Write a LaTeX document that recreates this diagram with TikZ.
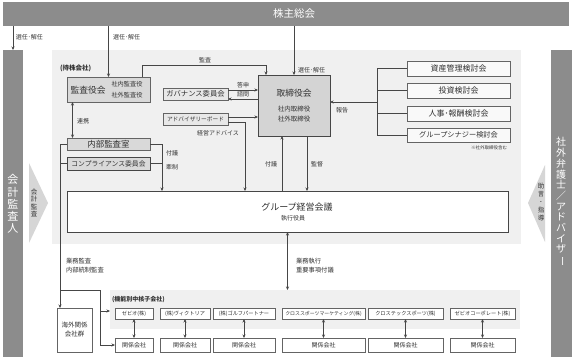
\documentclass[tikz,border=0pt]{standalone}
\usepackage{fontspec}
\setmainfont{Noto Sans CJK JP}
\usetikzlibrary{arrows.meta,calc}
\definecolor{barc}{RGB}{140,140,140}
\definecolor{bgc}{RGB}{240,240,240}
\definecolor{boxg}{RGB}{217,217,217}
\definecolor{boxl}{RGB}{232,232,232}
\definecolor{torc}{RGB}{212,212,212}
\definecolor{chev}{RGB}{214,214,214}
\definecolor{lnc}{RGB}{70,70,70}
\definecolor{brd}{RGB}{100,100,100}
\definecolor{txc}{RGB}{50,50,50}
\newcommand{\jfs}[1]{\fontsize{#1}{#1}\selectfont}
\newcommand{\jfsl}[2]{\fontsize{#1}{#2}\selectfont}
\begin{document}
\begin{tikzpicture}[x=1pt,y=-1pt,
  every node/.style={inner sep=0pt,outer sep=0pt,text=txc},
  bx/.style={draw=brd,line width=0.6pt,anchor=north west},
  gbox/.style={bx,fill=boxg},
  lbox/.style={bx,fill=boxl},
  wbox/.style={bx,fill=white},
  sbox/.style={draw=brd,line width=0.5pt,fill=white,anchor=north west,minimum height=11pt,font=\jfs{5.2}},
  rbox/.style={draw=brd,line width=0.5pt,fill=white,anchor=north west,minimum height=14pt,font=\jfs{6}},
  lbl/.style={font=\jfs{6}},
  ln/.style={draw=lnc,line width=0.6pt},
  arr/.style={draw=lnc,line width=0.6pt,-{Stealth[length=3.5pt,width=3pt]}},
  arrb/.style={draw=lnc,line width=0.6pt,{Stealth[length=3.5pt,width=3pt]}-{Stealth[length=3.5pt,width=3pt]}}]
\useasboundingbox (0,0) rectangle (574,360);
\fill[white] (0,0) rectangle (574,360);
% backgrounds
\node[fill=bgc,minimum width=469pt,minimum height=194pt,anchor=north west] (hold) at (52,50) {};
\node[fill=bgc,minimum width=410pt,minimum height=39pt,anchor=north west] (subbg) at (110,290) {};
% top bar and side columns
\node[fill=barc,minimum width=566pt,minimum height=24pt,anchor=north west] (top) at (3,2) {};
\node[text=white,font=\jfs{10.5}] (toplbl) at (294,14) {株主総会};
\node[fill=barc,minimum width=20pt,minimum height=307pt,anchor=north west] (kaikei) at (3,50) {};
\node[text=white,font=\jfsl{11}{12.2},align=center] (kaikeilbl) at (13,204) {会\\計\\監\\査\\人};
\node[fill=barc,minimum width=21pt,minimum height=307pt,anchor=north west] (bengo) at (551,50) {};
\node[text=white,font=\jfsl{10}{10.7},align=center] (bengolbl) at (561,202) {社\\外\\弁\\護\\士\\／\\ア\\ド\\バ\\イ\\ザ\\\rotatebox[origin=c]{-90}{ー}};
% chevrons
\fill[chev] (29,163) -- (48,203) -- (29,243) -- cycle;
\node[font=\jfsl{6.5}{7.5},align=center] (kk) at (34,203) {会\\計\\監\\査};
\fill[chev] (545,165) -- (528,203) -- (545,242) -- cycle;
\node[font=\jfsl{6.5}{8},align=center] (jg) at (541,202) {助\\言\\･\\指\\導};
% holding company
\node[font=\bfseries\jfs{6.5},anchor=west] (hl) at (60,68) {(持株会社)};
\node[gbox,minimum width=83pt,minimum height=25pt] (kansa) at (67,77) {};
\node[font=\jfs{8.75}] (kansa1) at (88,90) {監査役会};
\node[font=\jfs{6.2}] (kansa2) at (127,84.5) {社内監査役};
\node[font=\jfs{6.2}] (kansa3) at (127,95) {社外監査役};
\node[lbox,minimum width=65pt,minimum height=12pt,font=\jfs{7.3}] (gov) at (163,88) {ガバナンス委員会};
\node[lbox,minimum width=65pt,minimum height=12pt,font=\jfs{5.7}] (adv) at (163,113) {アドバイザリーボード};
\node[gbox,minimum width=83pt,minimum height=12pt,font=\jfs{8.5}] (naibu) at (67,138) {内部監査室};
\node[gbox,draw=lnc,minimum width=83pt,minimum height=13pt,font=\jfs{6.8}] (comp) at (67,157) {コンプライアンス委員会};
\node[bx,fill=torc,draw=lnc,minimum width=72pt,minimum height=61pt] (tori) at (258,75) {};
\node[font=\jfs{8.75}] (tori1) at (294,93) {取締役会};
\node[font=\jfs{6.5}] (tori2) at (294,109) {社内取締役};
\node[font=\jfs{6.5}] (tori3) at (294,119) {社外取締役};
\node[bx,fill=white!60!bgc,minimum width=103pt,minimum height=15pt,font=\jfs{8}] (c1) at (407,61) {資産管理検討会};
\node[bx,fill=white!60!bgc,minimum width=103pt,minimum height=15pt,font=\jfs{8}] (c2) at (407,83) {投資検討会};
\node[bx,fill=white!60!bgc,minimum width=103pt,minimum height=15pt,font=\jfs{8}] (c3) at (407,106) {人事･報酬検討会};
\node[bx,fill=white!60!bgc,minimum width=103pt,minimum height=14pt,font=\jfs{7.2}] (c4) at (407,128) {グループシナジー検討会};
\node[font=\jfs{4.5},anchor=east] (note) at (507,148) {※社外取締役含む};
\node[wbox,draw=lnc,minimum width=441pt,minimum height=41pt] (gm) at (67,191) {};
\node[font=\jfs{9}] (gm1) at (297,207) {グループ経営会議};
\node[font=\jfs{6}] (gm2) at (293,218) {執行役員};
% subsidiaries
\node[font=\bfseries\jfs{6},anchor=west] (sl) at (112,300) {(機能別中核子会社)};
\node[wbox,minimum width=35pt,minimum height=44pt,font=\jfsl{6.5}{9},align=center] (kaigai) at (57,308) {海外関係\\会社群};
\node[sbox,minimum width=38pt] (s1) at (115,308) {ゼビオ(株)};
\node[sbox,minimum width=50pt] (s2) at (160,308) {(株)ヴィクトリア};
\node[sbox,minimum width=62pt] (s3) at (213,308) {(株)ゴルフパートナー};
\node[sbox,minimum width=83pt,font=\jfs{4.9}] (s4) at (282,308) {クロススポーツマーケティング(株)};
\node[sbox,minimum width=75pt] (s5) at (368,308) {クロステックスポーツ(株)};
\node[sbox,minimum width=65pt] (s6) at (450,308) {ゼビオコーポレート(株)};
\node[rbox,minimum width=38pt] (r1) at (115,338) {関係会社};
\node[rbox,minimum width=50pt] (r2) at (160,338) {関係会社};
\node[rbox,minimum width=62pt] (r3) at (213,338) {関係会社};
\node[rbox,minimum width=83pt] (r4) at (282,338) {関係会社};
\node[rbox,minimum width=75pt] (r5) at (368,338) {関係会社};
\node[rbox,minimum width=65pt] (r6) at (450,338) {関係会社};
\foreach \i in {1,...,6} {\draw[arrb] (s\i.south) -- (r\i.north);}
% connectors from top
\draw[arr] (top.south -| kaikei.north) -- (kaikei.north);
\node[lbl,anchor=west] (l1) at (16,37) {選任･解任};
\draw[arr] (top.south -| kansa.north) -- (kansa.north);
\node[lbl,anchor=west] (l2) at (113,37) {選任･解任};
\draw[arr] (top.south -| tori.north) -- (tori.north);
\node[lbl,anchor=west] (l3) at (298,70) {選任･解任};
% audit
\coordinate (ka) at ([xshift=33.5pt]kansa.north);
\coordinate (kb) at ([xshift=-28pt]tori.north);
\draw[arr] (ka) -- ++(0,-12) -| (kb);
\node[lbl] (l4) at (205,60) {監査};
% governance
\coordinate (g1) at ([yshift=4pt]gov.east);
\coordinate (g2) at ([yshift=-5pt]gov.east);
\draw[arr] (g1) -- (g1 -| tori.west);
\draw[arr] (g2 -| tori.west) -- (g2);
\node[lbl] (l5) at (243,85) {答申};
\node[lbl] (l6) at (243,94.5) {諮問};
% advisory
\coordinate (a1) at ([yshift=2pt]adv.east);
\coordinate (a2) at ([yshift=-3pt]adv.east);
\coordinate (gmA) at ([xshift=-42.5pt]gm.north);
\draw[arr] (a1) -- (a1 -| tori.west);
\draw[arr] (a2) -| (gmA);
\node[lbl] (l7) at (218,133) {経営アドバイス};
% internal audit
\coordinate (gmB) at ([xshift=-125.5pt]gm.north);
\draw[arr] (naibu.east) -| (gmB);
\draw[ln] (comp.east) -- (comp.east -| gmB);
\node[lbl,anchor=west] (l8) at (166,153) {付議};
\node[lbl,anchor=west] (l9) at (166,167) {牽制};
\draw[arrb] ([xshift=-36pt]kansa.south) -- ([xshift=-36pt]naibu.north);
\node[lbl,anchor=west] (l10) at (77,121) {連携};
% left trunk
\coordinate (kT) at ([xshift=-14.5pt]kaigai.north);
\draw[arr] (naibu.west) -| (kT);
\draw[ln] (comp.west) -- (comp.west -| kT);
\coordinate (br) at (60,290);
\coordinate (bx) at (100,290);
\coordinate (b2) at (100,311);
\draw[ln] (br) -- (bx) -- (bx |- r1.west);
\draw[arr] (bx |- r1.west) -- (r1.west);
\draw[arr] (b2) -- (b2 -| subbg.west);
\node[lbl,anchor=west,align=left,font=\jfsl{6.3}{9}] (l11) at (66,265.5) {業務監査\\内部統制監査};
% board <-> group management
\coordinate (t1) at ([xshift=-12pt]tori.south);
\coordinate (t2) at ([xshift=13pt]tori.south);
\draw[arr] (t1 |- gm.north) -- (t1);
\draw[arr] (t2) -- (t2 |- gm.north);
\node[lbl] (l12) at (271,164) {付議};
\node[lbl] (l13) at (317,164) {監督};
% committees
\coordinate (cv) at (377,100);
\draw[ln] (c1.west -| cv) -- (c4.west -| cv);
\foreach \c in {c1,c2,c3,c4} {\draw[ln] (\c.west) -- (\c.west -| cv);}
\coordinate (hk) at (377,102);
\draw[arr] (hk) -- (hk -| tori.east);
\node[lbl] (l14) at (342,110) {報告};
% group management to subsidiaries
\draw[arrb] (gm.south) -- (gm.south |- subbg.north);
\node[lbl,anchor=west,align=left,font=\jfsl{6.3}{9}] (l15) at (296,265.5) {業務執行\\重要事項付議};
\end{tikzpicture}
\end{document}
